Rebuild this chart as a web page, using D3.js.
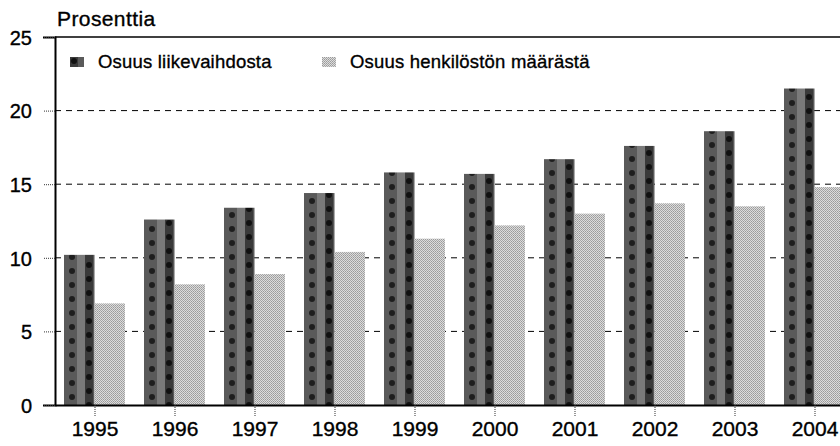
<!DOCTYPE html>
<html>
<head>
<meta charset="utf-8">
<script src="https://cdn.jsdelivr.net/npm/d3@7"></script>
<style>
  body { margin: 0; background: #fff; }
  text { font-family: "Liberation Sans", Arial, sans-serif; fill: #000; stroke: #000; stroke-width: 0.35px; }
</style>
</head>
<body>
<script>
const years = ['1995', '1996', '1997', '1998', '1999', '2000', '2001', '2002', '2003', '2004']
const liikevaihto = [10.2, 12.6, 13.4, 14.4, 15.8, 15.7, 16.7, 17.6, 18.6, 21.5]
const henkilosto = [6.9, 8.2, 8.9, 10.4, 11.3, 12.2, 13.0, 13.7, 13.5, 14.8]
const seriesNames = ['Osuus liikevaihdosta', 'Osuus henkilöstön määrästä']
const yTicks = [0, 5, 10, 15, 20, 25]

const width = 840
const height = 446
const margin = {top: 37, right: -15, bottom: 41, left: 55}

const svg = d3.select('body').append('svg')
  .attr('width', width)
  .attr('height', height)

// textures for the two series
const defs = svg.append('defs')
const darkPat = defs.append('pattern')
  .attr('id', 'dark').attr('patternUnits', 'userSpaceOnUse')
  .attr('width', 30).attr('height', 14)
darkPat.append('rect').attr('width', 30).attr('height', 14).attr('fill', '#5a5a5a')
darkPat.append('rect').attr('width', 8).attr('height', 14).attr('fill', '#3a3a3a')
darkPat.append('circle').attr('cx', 4).attr('cy', 4).attr('r', 3).attr('fill', '#111')
darkPat.append('circle').attr('cx', 17).attr('cy', 10).attr('r', 3).attr('fill', '#1e1e1e')
darkPat.append('rect').attr('x', 22).attr('width', 8).attr('height', 14).attr('fill', '#7a7a7a')

const lightPat = defs.append('pattern')
  .attr('id', 'light').attr('patternUnits', 'userSpaceOnUse')
  .attr('width', 2).attr('height', 2)
lightPat.append('rect').attr('width', 2).attr('height', 2).attr('fill', '#dcdcdc')
lightPat.append('rect').attr('width', 1).attr('height', 1).attr('fill', '#9a9a9a')
lightPat.append('rect').attr('x', 1).attr('y', 1).attr('width', 1).attr('height', 1).attr('fill', '#a8a8a8')

const chart = svg.append('g')
  .attr('transform', `translate(${margin.left},${margin.top})`)

const innerW = width - margin.left - margin.right
const innerH = height - margin.top - margin.bottom

const x = d3.scaleBand()
  .domain(years)
  .range([0, innerW])

const x1 = d3.scaleBand()
  .domain([0, 1])
  .range([9, 70])

const y = d3.scaleLinear()
  .domain([0, 25])
  .range([innerH, 0])

// gridlines
chart.selectAll('.grid')
  .data(yTicks.filter(t => t > 0 && t < 25))
  .enter()
  .append('line')
  .attr('x1', 0)
  .attr('x2', innerW)
  .attr('y1', d => y(d))
  .attr('y2', d => y(d))
  .attr('stroke', '#000')
  .attr('stroke-width', 1)
  .attr('stroke-dasharray', '6,5')

// top border
chart.append('line')
  .attr('x1', 0).attr('x2', innerW)
  .attr('y1', y(25)).attr('y2', y(25))
  .attr('stroke', '#000').attr('stroke-width', 1.5)

// bars
const data = years.map((yr, i) => ({year: yr, vals: [liikevaihto[i], henkilosto[i]]}))
const groups = chart.selectAll('.group')
  .data(data)
  .enter()
  .append('g')
  .attr('transform', d => `translate(${x(d.year)},0)`)

groups.selectAll('rect')
  .data(d => d.vals.map((v, k) => ({k, v})))
  .enter()
  .append('rect')
  .attr('x', d => x1(d.k))
  .attr('width', x1.bandwidth())
  .attr('y', d => y(d.v))
  .attr('height', d => innerH - y(d.v))
  .attr('fill', d => d.k === 0 ? 'url(#dark)' : 'url(#light)')

// y axis
const yAxis = d3.axisLeft(y).tickValues(yTicks).tickSize(12).tickPadding(11)
const gy = chart.append('g').call(yAxis)
gy.select('.domain').attr('stroke', '#000').attr('stroke-width', 2)
gy.selectAll('.tick line').attr('stroke-dasharray', '1,1').attr('stroke', '#333')
gy.selectAll('.tick text')
  .style('font-family', '"Liberation Sans", Arial, sans-serif')
  .style('font-size', '20px')
  .attr('dy', '0.36em')

// x axis
const xAxis = d3.axisBottom(x).tickSize(12).tickPadding(4).tickSizeOuter(0)
const gx = chart.append('g')
  .attr('transform', `translate(0,${innerH})`)
  .call(xAxis)
gx.select('.domain').attr('stroke', '#000').attr('stroke-width', 2)
gx.selectAll('.tick line').attr('stroke-dasharray', '1,1').attr('stroke', '#333')
gx.selectAll('.tick text')
  .style('font-family', '"Liberation Sans", Arial, sans-serif')
  .style('font-size', '21px')

// unit label
svg.append('text')
  .attr('x', 57)
  .attr('y', 26)
  .style('font-size', '21px')
  .style('letter-spacing', '0.4px')
  .text('Prosenttia')

// legend
const legendX = [70, 322]
const legend = svg.selectAll('.legend')
  .data(seriesNames)
  .enter()
  .append('g')
  .attr('transform', (d, i) => `translate(${legendX[i]},57)`)
legend.append('rect')
  .attr('width', 14).attr('height', 10)
  .attr('fill', (d, i) => i === 0 ? 'url(#dark)' : 'url(#light)')
legend.append('text')
  .attr('x', 28)
  .attr('y', 11)
  .style('font-size', '18.5px')
  .style('letter-spacing', '0.2px')
  .text(d => d)
</script>
</body>
</html>
